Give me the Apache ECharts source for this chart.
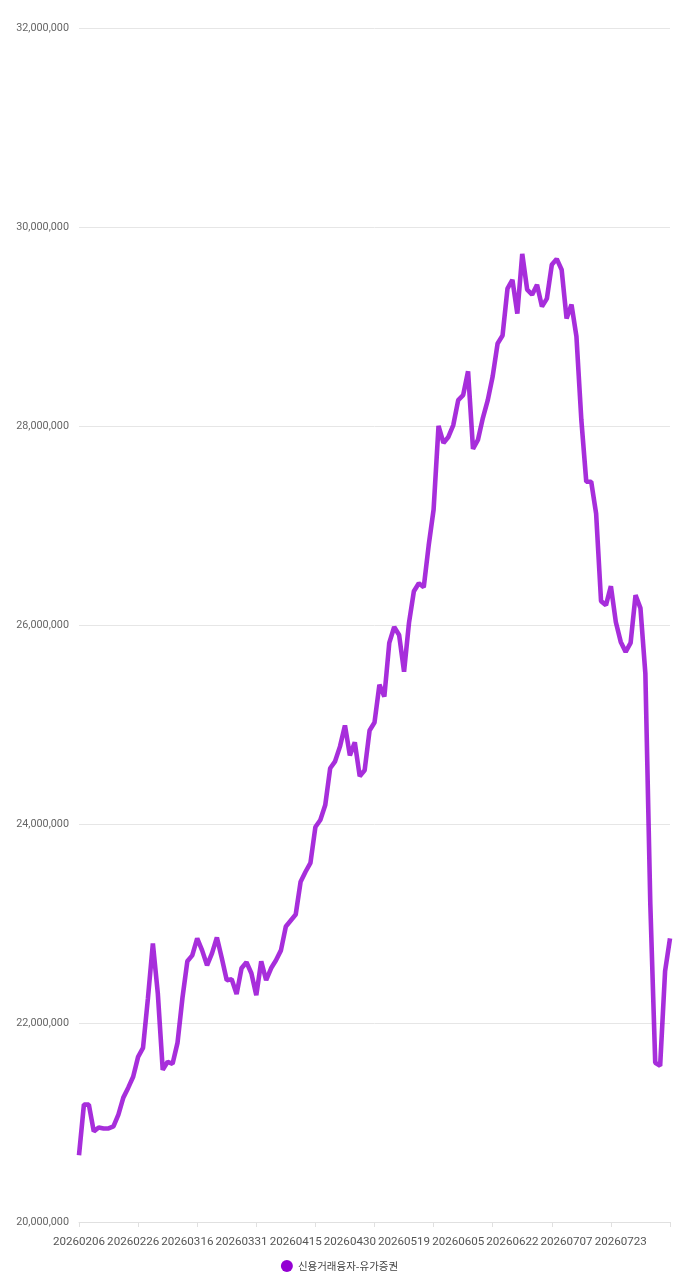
<!DOCTYPE html>
<html>
<head>
<meta charset="utf-8">
<title>신용거래융자-유가증권</title>
<script src="https://cdn.jsdelivr.net/npm/echarts@6/dist/echarts.min.js"></script>
<style>
  html, body { margin: 0; padding: 0; background: #fff; }
  .chart { width: 679px; height: 1280px; }
</style>
</head>
<body>
<div class="chart"></div>
<script>
// 거래일
var dates = [
  "20260206", "20260209", "20260210", "20260211", "20260212", "20260213", "20260219", "20260220",
  "20260223", "20260224", "20260225", "20260226", "20260227",
  "20260303", "20260304", "20260305", "20260306", "20260309", "20260310", "20260311", "20260312",
  "20260313", "20260316", "20260317", "20260318", "20260319", "20260320", "20260323", "20260324",
  "20260325", "20260326", "20260327", "20260330", "20260331",
  "20260401", "20260402", "20260403", "20260406", "20260407", "20260408", "20260409", "20260410",
  "20260413", "20260414", "20260415", "20260416", "20260417", "20260420", "20260421", "20260422",
  "20260423", "20260424", "20260427", "20260428", "20260429", "20260430",
  "20260504", "20260506", "20260507", "20260508", "20260511", "20260512", "20260513", "20260514",
  "20260515", "20260518", "20260519", "20260520", "20260521", "20260522", "20260526", "20260527",
  "20260528", "20260529",
  "20260601", "20260602", "20260604", "20260605", "20260608", "20260609", "20260610", "20260611",
  "20260612", "20260615", "20260616", "20260617", "20260618", "20260619", "20260622", "20260623",
  "20260624", "20260625", "20260626", "20260629", "20260630",
  "20260701", "20260702", "20260703", "20260706", "20260707", "20260708", "20260709", "20260710",
  "20260713", "20260714", "20260715", "20260716", "20260720", "20260721", "20260722", "20260723",
  "20260724", "20260727", "20260728", "20260729", "20260730", "20260731",
  "20260803", "20260804", "20260805", "20260806"
];

// 신용거래융자-유가증권 (원 단위 추정값)
var creditLoans = [
  20670000, 21180000, 21180000, 20910000, 20950000, 20940000, 20940000, 20960000,
  21080000, 21250000, 21350000, 21460000, 21660000, 21750000, 22250000, 22800000,
  22300000, 21530000, 21610000, 21590000, 21800000, 22250000, 22620000, 22680000,
  22850000, 22730000, 22580000, 22700000, 22860000, 22650000, 22430000, 22440000,
  22290000, 22550000, 22610000, 22500000, 22280000, 22620000, 22430000, 22550000,
  22630000, 22730000, 22970000, 23030000, 23090000, 23420000, 23520000, 23610000,
  23970000, 24040000, 24190000, 24560000, 24630000, 24780000, 24990000, 24690000,
  24820000, 24480000, 24540000, 24940000, 25020000, 25400000, 25280000, 25820000,
  25980000, 25900000, 25530000, 26020000, 26340000, 26420000, 26380000, 26800000,
  27160000, 28000000, 27830000, 27890000, 28010000, 28260000, 28310000, 28550000,
  27770000, 27860000, 28080000, 28260000, 28500000, 28830000, 28910000, 29380000,
  29470000, 29130000, 29730000, 29370000, 29320000, 29420000, 29200000, 29280000,
  29620000, 29680000, 29570000, 29080000, 29220000, 28900000, 28060000, 27440000,
  27440000, 27120000, 26240000, 26200000, 26390000, 26030000, 25830000, 25730000,
  25820000, 26300000, 26170000, 25510000, 23200000, 21600000, 21570000, 22520000,
  22850000
];

var seriesName = "신용거래융자-유가증권";

var yMin = 20000000;
var yMax = 32000000;
var yStep = 2000000;

var chart = echarts.init(document.querySelector(".chart"));

var option = {
  animation: false,
  textStyle: {
    fontFamily: "Roboto, 'Noto Sans CJK KR', sans-serif"
  },
  grid: {
    left: 79,
    right: 9,
    top: 28,
    bottom: 58
  },
  legend: {
    bottom: 3,
    left: "center",
    icon: "circle",
    itemWidth: 12,
    itemHeight: 12,
    itemGap: 10,
    textStyle: {
      color: "#444",
      fontSize: 10.5,
      fontFamily: "'Noto Sans CJK KR', Roboto, sans-serif"
    },
    data: [{ name: seriesName, itemStyle: { color: "#9400d3" } }]
  },
  xAxis: {
    type: "category",
    boundaryGap: false,
    data: dates,
    axisLine: { lineStyle: { color: "#e0e0e0" } },
    axisTick: { interval: 11, length: 5, lineStyle: { color: "#e0e0e0" } },
    axisLabel: {
      interval: 10,
      color: "#555",
      fontSize: 11.6,
      margin: 14,
      hideOverlap: false
    },
    splitLine: { show: false }
  },
  yAxis: {
    type: "value",
    min: yMin,
    max: yMax,
    interval: yStep,
    axisLine: { show: false },
    axisTick: { show: false },
    axisLabel: {
      color: "#666",
      fontSize: 10.8,
      margin: 10,
      formatter: function(v) {
        return v.toLocaleString("en-US");
      }
    },
    splitLine: { lineStyle: { color: "#e6e6e6" } }
  },
  series: [
    {
      name: seriesName,
      type: "line",
      data: creditLoans,
      showSymbol: false,
      symbol: "none",
      itemStyle: { color: "#9400d3" },
      lineStyle: { width: 4.6, color: "rgba(148, 0, 211, 0.82)" }
    }
  ]
};

chart.setOption(option);
</script>
</body>
</html>
